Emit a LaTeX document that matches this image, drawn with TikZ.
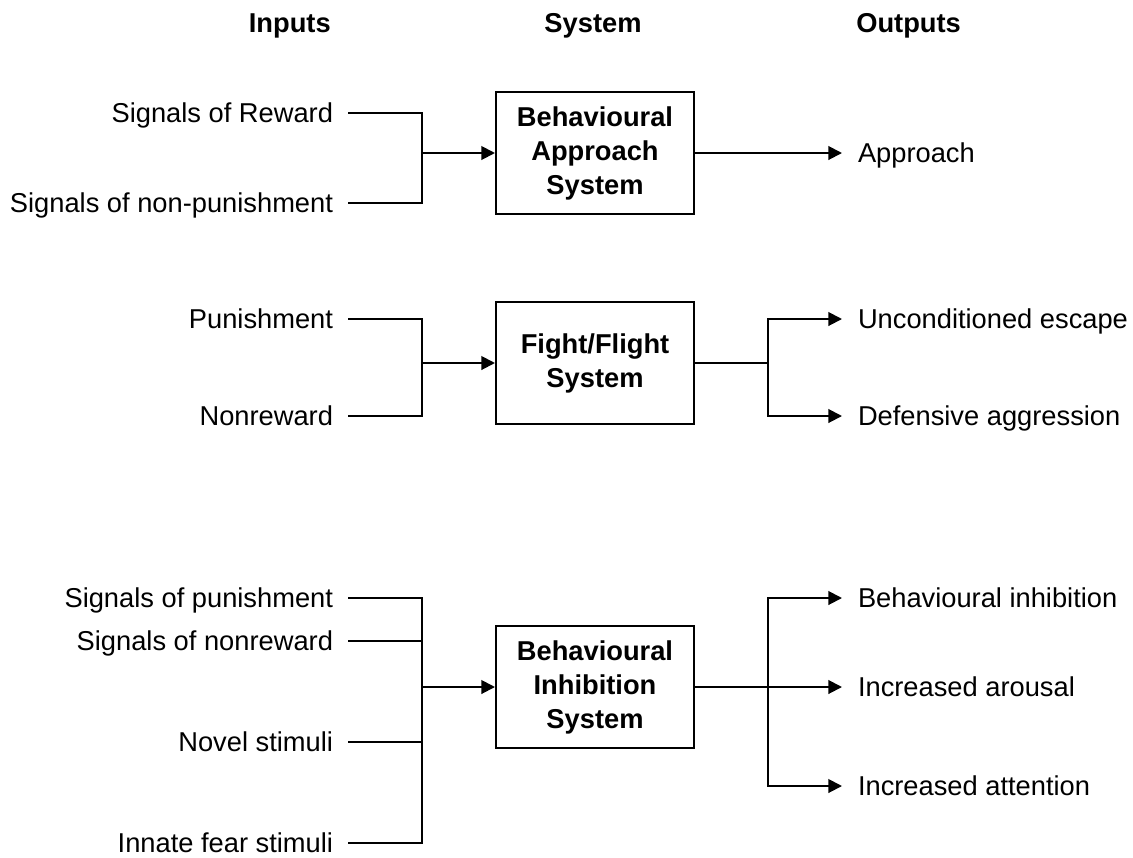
\documentclass[tikz,border=0pt]{standalone}
\usepackage{fontspec}
\setmainfont{Liberation Sans}
\usetikzlibrary{arrows.meta,positioning}

\tikzset{
    sysbox/.style={draw,line width=1.4pt,minimum width=4.95cm,minimum height=3.03cm,
        inner sep=0pt,align=center,font=\fontsize{19.4pt}{24.2pt}\selectfont\bfseries},
    inlab/.style={anchor=east,inner sep=0pt,outer xsep=0.375cm,text height=13.9pt,text depth=0pt},
    outlab/.style={anchor=west,inner sep=0pt,outer xsep=0.4cm,text height=13.9pt,text depth=0pt},
    headlab/.style={inner sep=0pt,font=\fontsize{19.4pt}{24.2pt}\selectfont\bfseries},
    wire/.style={line width=1.4pt},
    arr/.style={line width=1.4pt,-{Triangle[length=0.34cm,width=0.34cm]}}
}

\begin{document}
\begin{tikzpicture}[x=0.025cm,y=-0.025cm,font=\fontsize{19.4pt}{24.2pt}\selectfont]
                \useasboundingbox (0,0) rectangle (1133,857);

                \node[headlab,anchor=base east] (hin)  at (331,32) {Inputs};
                \node[headlab,anchor=base]      (hsys) at (593,32) {System};
                \node[headlab,anchor=base west] (hout) at (856,32) {Outputs};

                \node[sysbox] (bas) at (595,153) {Behavioural\\Approach\\System};
                \node[sysbox] (ffs) at (595,363) {Fight/Flight\\System};
                \node[sysbox] (bis) at (595,687) {Behavioural\\Inhibition\\System};

                \node[inlab] (sr)  at (348,113) {Signals of Reward};
                \node[inlab] (snp) at (348,203) {Signals of non-punishment};
                \node[inlab] (pun) at (348,319) {Punishment};
                \node[inlab] (nrw) at (348,416) {Nonreward};
                \node[inlab] (sp)  at (348,598) {Signals of punishment};
                \node[inlab] (snr) at (348,641) {Signals of nonreward};
                \node[inlab] (nov) at (348,742) {Novel stimuli};
                \node[inlab] (inn) at (348,843) {Innate fear stimuli};

                \node[outlab] (app) at (842,153) {Approach};
                \node[outlab] (ue)  at (842,319) {Unconditioned escape};
                \node[outlab] (da)  at (842,416) {Defensive aggression};
                \node[outlab] (bi)  at (842,598) {Behavioural inhibition};
                \node[outlab] (ia)  at (842,687) {Increased arousal};
                \node[outlab] (iat) at (842,786) {Increased attention};

                \coordinate (j1) at (422,153);
                \coordinate (j2) at (422,363);
                \coordinate (j3) at (422,687);
                \coordinate (k2) at (768,363);
                \coordinate (k3) at (768,687);

                \draw[wire] (sr.east) -| (j1);
                \draw[wire] (snp.east) -| (j1);
                \draw[arr] (j1) -- (bas);
                \draw[arr] (bas) -- (app);

                \draw[wire] (pun.east) -| (j2);
                \draw[wire] (nrw.east) -| (j2);
                \draw[arr] (j2) -- (ffs);
                \draw[wire] (ffs) -- (k2);
                \draw[arr] (k2) |- (ue);
                \draw[arr] (k2) |- (da);

                \draw[wire] (sp.east) -| (j3);
                \draw[wire] (snr.east) -| (j3);
                \draw[wire] (nov.east) -| (j3);
                \draw[wire] (inn.east) -| (j3);
                \draw[arr] (j3) -- (bis);
                \draw[wire] (bis) -- (k3);
                \draw[arr] (k3) |- (bi);
                \draw[arr] (k3) -- (ia);
                \draw[arr] (k3) |- (iat);
            \end{tikzpicture}
\end{document}
